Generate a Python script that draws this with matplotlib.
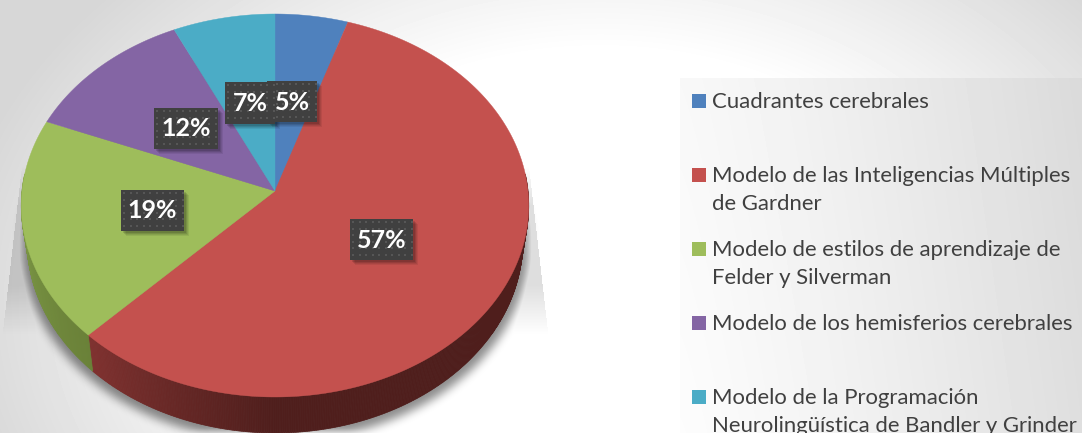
#!/usr/bin/env python3

import numpy as np
import matplotlib
matplotlib.use('Agg')
import matplotlib.pyplot as plt
from matplotlib.patches import Polygon, Rectangle

categories = ['Cuadrantes cerebrales',
              'Modelo de las Inteligencias Múltiples\nde Gardner',
              'Modelo de estilos de aprendizaje de\nFelder y Silverman',
              'Modelo de los hemisferios cerebrales',
              'Modelo de la Programación\nNeurolingüística de Bandler y Grinder']
values = [5.0, 57.3, 18.8, 11.9, 7.0]
colors = ['#4F81BD', '#C4514E', '#9EBD5B', '#8465A4', '#4BACC6']
side_light = ['#3A6090', '#813230', '#7F9A48', '#66508A', '#3A8CA0']
side_dark = ['#2A4A70', '#4F1E1C', '#6A8238', '#503E6C', '#2C6E80']
label_boxes = [(267, 81, 50, 41), (350, 219, 63, 41), (121, 190, 63, 41),
               (154, 108, 64, 41), (225, 82, 50, 42)]
legend_y = [101, 175, 249, 323, 397]

plt.rcParams['font.family'] = ['Lato', 'DejaVu Sans']

W, H = 1082, 433
fig = plt.figure(figsize=(W / 100, H / 100), dpi=100)
ax = fig.add_axes([0, 0, 1, 1])
ax.set_xlim(0, W)
ax.set_ylim(H, 0)
ax.axis('off')


def blur(a, n):
    k = np.ones(n) / n
    for _ in range(3):
        a = np.apply_along_axis(lambda m: np.convolve(m, k, mode='same'), 0, a)
        a = np.apply_along_axis(lambda m: np.convolve(m, k, mode='same'), 1, a)
    return a


# slide background
yy, xx = np.mgrid[0:H, 0:W]
dist = np.sqrt((xx - 600.0) ** 2 + ((yy - 300.0) * 1.4) ** 2)
bg = 255 - 40 * np.clip((dist - 350) / 300, 0, 1)
ax.imshow(bg, cmap='gray', vmin=0, vmax=255, extent=(0, W, H, 0), aspect='auto', zorder=0)

# legend panel
panel = 250 - 30 * np.clip((xx - 680) / 402.0, 0, 1) ** 1.2 + (yy - 250) * 0.012
panel = np.ma.masked_where((xx < 680) | (yy < 78), panel)
ax.imshow(panel, cmap='gray', vmin=0, vmax=255, extent=(0, W, H, 0), aspect='auto', zorder=1)

# reflection behind the pie and soft shadow under the rim
spread = 254 + np.clip(yy - 170, 0, None) * 0.115
refl = (np.abs(xx - 275) < spread) & (yy > 165)
refl = refl * np.clip((335 - yy) / 50.0, 0.0, 1.0) * np.clip((yy - 165) / 40.0, 0.0, 1.0)
rim = ((xx - 275.0) / 254) ** 2 + ((yy - 244.0) / 197) ** 2 < 1
rim = blur(rim.astype(float), 9)
alpha = np.clip(np.maximum(refl * 0.13, rim * 0.45), 0, 1)
shadow = np.zeros((H, W, 4))
shadow[..., 3] = alpha
ax.imshow(shadow, extent=(0, W, H, 0), aspect='auto', zorder=2)

ax.set_xlim(0, W)
ax.set_ylim(H, 0)

# pie in perspective: a circle mapped so its centre lands on the apex
cum = np.concatenate([[0], np.cumsum(values)]) / np.sum(values) * 2 * np.pi


def project(t, r=1.0, x0=275.0, y0=191.0, a=253.0, b=190.4, k=0.0757):
    u = r * np.sin(t)
    v = r * np.cos(t)
    w = 1 + k * v
    return x0 + a * u / w, y0 - b * v / w


def lower(t):
    return project(t, x0=275.0, y0=227.0, a=247.0, b=190.4)


# side wall, strips coloured along the rim
for i in range(len(values)):
    ts = np.linspace(cum[i], cum[i + 1], max(int((cum[i + 1] - cum[i]) * 150), 2))
    ts = ts[(ts > np.pi * 0.47) & (ts < np.pi * 1.53)]
    if len(ts) < 2:
        continue
    c0 = np.array(matplotlib.colors.to_rgb(side_dark[i]))
    c1 = np.array(matplotlib.colors.to_rgb(side_light[i]))
    for t0, t1 in zip(ts[:-1], ts[1:]):
        f = np.clip((t0 - np.pi * 1.0) / (np.pi * 0.25), 0, 1)
        if i == 1:
            c = c0 + (c1 - c0) * f
        else:
            c = c1 + (c0 - c1) * (1 - (t0 - ts[0]) / (ts[-1] - ts[0]))
        x_a, y_a = project(np.array([t0, t1]))
        x_b, y_b = lower(np.array([t1, t0]))
        pts = np.column_stack([np.r_[x_a, x_b], np.r_[y_a, y_b]])
        ax.add_patch(Polygon(pts, closed=True, fc=c, ec=c, lw=0.5, zorder=3))

# top face
for i in range(len(values)):
    ts = np.linspace(cum[i], cum[i + 1], 200)
    x, y = project(ts)
    pts = np.column_stack([np.r_[275.0, x], np.r_[191.0, y]])
    ax.add_patch(Polygon(pts, closed=True, fc=colors[i], ec=colors[i], lw=0.3, zorder=4))

# data labels
for i in range(len(values)):
    bx, by, bw, bh = label_boxes[i]
    for off, a in [(5, 0.07), (4, 0.08), (3, 0.1), (2, 0.12)]:
        ax.add_patch(Rectangle((bx + off, by + off), bw, bh, fc='black', alpha=a, ec='none', zorder=5))
    ax.add_patch(Rectangle((bx, by), bw, bh, fc='#404040', ec='none', zorder=6 + i * 0.1))
    dx = np.arange(bx + 3, bx + bw, 6.5)
    dy = np.arange(by + 3, by + bh, 6.5)
    gx, gy = np.meshgrid(dx, dy)
    ax.scatter(gx.ravel(), gy.ravel(), s=2.5, c='#565656', marker='s', linewidths=0, zorder=6 + i * 0.1 + 0.01)
    ax.text(bx + bw / 2, by + bh / 2 + 0.5, f'{round(values[i])}%', color='white', fontsize=18,
            fontweight='bold', ha='center', va='center', zorder=6 + i * 0.1 + 0.02)

# legend
for name, col, ly in zip(categories, colors, legend_y):
    ax.add_patch(Rectangle((692, ly - 7), 14, 14, fc=col, ec='none', zorder=6))
    ax.text(712, ly - 9, name, color='#404040', fontsize=15.9, ha='left', va='top',
            linespacing=1.47, zorder=6, clip_on=True)

fig.savefig('out.png', dpi=100)
